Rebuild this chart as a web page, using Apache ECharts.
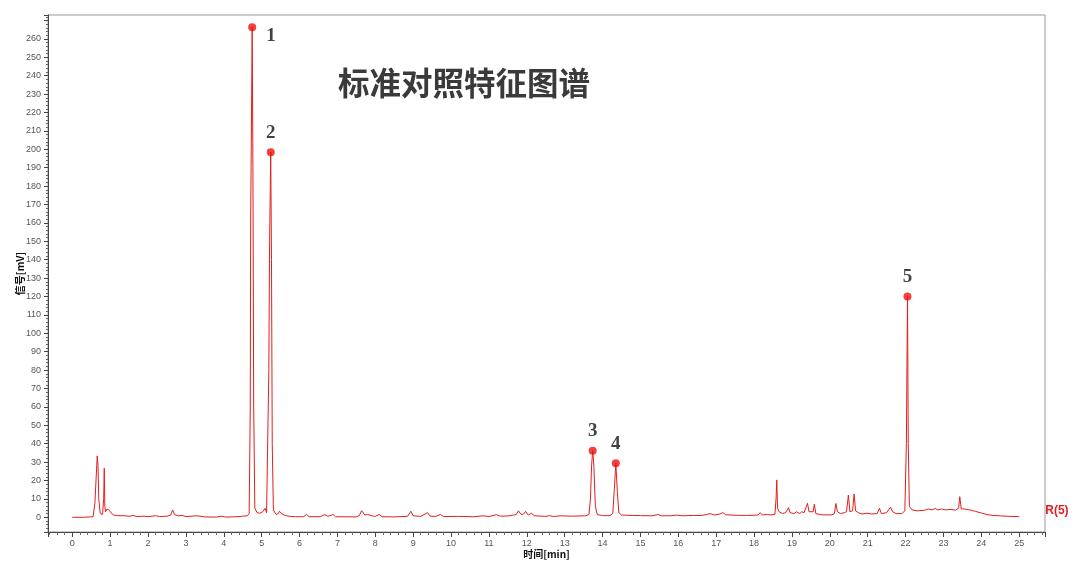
<!DOCTYPE html>
<html>
<head>
<meta charset="utf-8">
<script src="https://cdn.jsdelivr.net/npm/echarts/dist/echarts.min.js"></script>
<style>
  html, body { margin: 0; padding: 0; background: #fff; }
  #chart { width: 1080px; height: 566px; }
</style>
</head>
<body>
<div id="chart"></div>
<script>
// chromatogram trace, [time (min), signal (mV)]
var tracePoints = [
  [0, 0], [0.3, 0], [0.55, 0.3], [0.6, 8], [0.62, 17], [0.64, 16], [0.66, 33.4], [0.68, 28], [0.7, 10],
  [0.74, 2], [0.8, 1.5], [0.83, 10], [0.845, 26.6], [0.86, 6], [0.88, 3], [0.92, 4.5], [0.95, 4.9],
  [0.98, 3.8], [1.0, 4.5], [1.04, 2], [1.1, 1.2], [1.2, 0.9], [1.4, 0.8], [1.5, 0.5], [1.6, 1.0],
  [1.7, 0.4], [1.9, 0.6], [2.0, 0.3], [2.2, 0.9], [2.3, 0.4], [2.5, 0.6], [2.6, 1.2], [2.65, 4],
  [2.7, 1.5], [2.8, 0.8], [2.9, 1.0], [3.0, 0.4], [3.3, 0.8], [3.5, 0.2], [3.8, 0.1], [3.95, 0.6],
  [4.05, 0.1], [4.35, 0.3], [4.5, 0.6], [4.62, 0.8],
  [4.67, 2], [4.7, 60], [4.71, 160], [4.75, 266.4], [4.77, 190], [4.79, 60], [4.82, 5], [4.88, 2.5],
  [4.95, 2.2], [5.03, 3], [5.09, 4.9], [5.13, 2.5], [5.16, 3], [5.19, 80], [5.21, 150], [5.24, 198.4],
  [5.26, 140], [5.28, 40], [5.31, 4], [5.38, 1.5], [5.44, 2], [5.47, 3.3], [5.52, 2.0], [5.57, 2.2],
  [5.62, 1.0], [5.75, 0.5], [5.8, 1.0], [5.9, 0.3], [6.1, 0.3], [6.19, 1.5], [6.25, 0.3], [6.55, 0.3],
  [6.67, 1.5], [6.75, 0.5], [6.89, 1.5], [6.95, 0.3], [7.5, 0.2], [7.58, 1.0], [7.64, 3.6], [7.72, 1.3],
  [7.8, 1.5], [7.85, 2.4], [7.92, 0.8], [8.0, 0.5], [8.1, 1.5], [8.18, 0.3], [8.5, 0.2], [8.85, 0.5],
  [8.94, 3.3], [9.0, 0.8], [9.2, 0.5], [9.38, 2.5], [9.45, 0.6], [9.6, 0.5], [9.72, 1.5], [9.8, 0.4],
  [10.2, 0.5], [10.6, 0.3], [10.85, 0.8], [11.0, 0.4], [11.2, 1.4], [11.3, 0.6], [11.5, 0.7],
  [11.65, 1.2], [11.72, 1.5], [11.78, 3.5], [11.85, 1.5], [11.92, 1.8], [11.97, 3.2], [12.04, 1.2],
  [12.12, 2.2], [12.2, 0.8], [12.5, 0.5], [12.6, 0.9], [12.7, 0.4], [12.9, 0.8], [13.2, 0.6],
  [13.55, 0.8], [13.64, 1.5], [13.68, 10], [13.71, 28], [13.74, 36.2], [13.77, 28], [13.81, 6],
  [13.86, 1.5], [14.0, 0.9], [14.2, 0.9], [14.27, 2], [14.31, 15], [14.35, 29.4], [14.39, 14],
  [14.43, 2.5], [14.5, 1.2], [14.8, 1.0], [15.0, 0.9], [15.3, 0.8], [15.47, 1.5], [15.55, 0.8],
  [15.8, 0.8], [15.96, 1.2], [16.1, 0.8], [16.4, 1.0], [16.6, 1.0], [16.75, 1.5], [16.84, 2.0],
  [16.95, 1.2], [17.1, 1.8], [17.18, 2.5], [17.25, 1.4], [17.5, 1.1], [17.8, 1.0], [18.1, 1.2],
  [18.16, 2.5], [18.22, 1.2], [18.32, 1.5], [18.36, 2.2], [18.42, 1.3], [18.55, 1.5], [18.58, 10],
  [18.6, 20.3], [18.62, 5], [18.66, 3], [18.69, 4], [18.75, 2], [18.83, 2.5], [18.91, 5.2], [18.95, 2.5],
  [19.05, 2], [19.12, 3], [19.2, 2], [19.26, 3], [19.32, 2.5], [19.41, 7.6], [19.45, 3], [19.5, 3.5],
  [19.56, 3], [19.59, 7.1], [19.63, 2], [19.8, 1.3], [20.05, 1.3], [20.12, 2], [20.16, 7.5], [20.2, 3],
  [20.28, 2], [20.38, 2.5], [20.44, 3], [20.49, 12.1], [20.53, 3], [20.6, 3.5], [20.64, 12.7],
  [20.68, 3.5], [20.75, 2.5], [20.85, 1.8], [20.98, 2.2], [21.1, 1.8], [21.25, 2], [21.31, 4.9],
  [21.36, 2], [21.5, 2.5], [21.6, 5.5], [21.66, 3], [21.75, 2], [21.9, 2], [21.98, 3.5], [22.02, 40],
  [22.05, 120], [22.07, 40], [22.1, 6], [22.17, 4], [22.3, 3.5], [22.5, 3.8], [22.6, 4.5], [22.7, 4],
  [22.78, 4.8], [22.85, 4], [22.95, 4.5], [23.05, 4], [23.2, 4.3], [23.32, 3.8], [23.4, 5],
  [23.43, 11.2], [23.47, 4.5], [23.55, 4.5], [23.6, 5], [23.7, 4], [23.85, 3.2], [24.0, 2.3],
  [24.15, 1.5], [24.3, 1.0], [24.5, 0.8], [24.65, 0.6], [24.7, 0.3], [25.0, 0.3]
];

// marked peaks
var peakNames = ['1', '2', '3', '4', '5'];
var peakTimes = [4.75, 5.24, 13.74, 14.35, 22.05];
var peakHeights = [266.4, 198.4, 36.2, 29.4, 120];

var titleText = '标准对照特征图谱';
var seriesName = 'R(5)';
var xName = '时间[min]';
var yName = '信号[mV]';

var chart = echarts.init(document.getElementById('chart'));

var peakData = peakNames.map(function (n, i) {
  var item = { value: [peakTimes[i], peakHeights[i]], name: n };
  if (i === 0) {
    item.label = { position: 'right', offset: [4, 9] };
  }
  return item;
});

var option = {
  animation: false,
  backgroundColor: '#fff',
  title: {
    text: titleText,
    left: 333,
    top: 62,
    textStyle: {
      fontFamily: 'Noto Sans CJK SC',
      fontSize: 31.5,
      fontWeight: 'bold',
      color: '#3a3a3a'
    }
  },
  grid: {
    left: 48,
    right: 35,
    top: 15,
    bottom: 34,
    outerBoundsMode: 'none',
    containLabel: false,
    show: true,
    borderColor: '#999',
    borderWidth: 1
  },
  xAxis: {
    type: 'value',
    min: -0.64,
    max: 25.68,
    splitNumber: 26,
    name: xName,
    nameLocation: 'middle',
    nameGap: 17,
    nameMoveOverlap: false,
    nameTextStyle: {
      fontFamily: 'Noto Sans CJK SC',
      fontSize: 10,
      fontWeight: 'bold',
      color: '#111'
    },
    axisLine: { onZero: false, lineStyle: { color: '#444', width: 1 } },
    axisTick: { length: 5, lineStyle: { color: '#444' } },
    minorTick: { show: true, splitNumber: 5, length: 3, lineStyle: { color: '#666' } },
    axisLabel: {
      showMinLabel: false,
      showMaxLabel: false,
      margin: 7,
      fontFamily: 'Liberation Sans',
      fontSize: 9,
      color: '#555'
    },
    splitLine: { show: false }
  },
  yAxis: {
    type: 'value',
    min: -8,
    max: 273,
    splitNumber: 28,
    name: yName,
    nameLocation: 'middle',
    nameRotate: 90,
    nameGap: 23,
    nameMoveOverlap: false,
    nameTextStyle: {
      fontFamily: 'Noto Sans CJK SC',
      fontSize: 10,
      fontWeight: 'bold',
      color: '#111'
    },
    axisLine: { show: true, onZero: false, lineStyle: { color: '#444', width: 1 } },
    axisTick: { show: true, length: 4, lineStyle: { color: '#444' } },
    minorTick: { show: true, splitNumber: 5, length: 2, lineStyle: { color: '#666' } },
    axisLabel: {
      showMinLabel: false,
      showMaxLabel: false,
      margin: 7,
      fontFamily: 'Liberation Sans',
      fontSize: 9,
      color: '#555',
      formatter: function (v) {
        return (v < 0 || v > 260) ? '' : String(v);
      }
    },
    splitLine: { show: false }
  },
  series: [
    {
      name: seriesName,
      type: 'line',
      data: tracePoints,
      symbol: 'none',
      silent: true,
      lineStyle: { color: '#e41e1e', width: 1 },
      endLabel: {
        show: true,
        formatter: seriesName,
        color: '#e41e1e',
        fontFamily: 'Liberation Sans',
        fontSize: 12,
        fontWeight: 'bold',
        offset: [18, -6]
      },
      z: 2
    },
    {
      type: 'scatter',
      data: peakData,
      symbolSize: 8,
      itemStyle: { color: '#f01010' },
      label: {
        show: true,
        position: 'top',
        distance: 6,
        formatter: '{b}',
        fontFamily: 'Liberation Serif',
        fontSize: 19,
        fontWeight: 'bold',
        color: '#111'
      },
      silent: true,
      z: 3
    }
  ]
};

chart.setOption(option);
</script>
</body>
</html>
